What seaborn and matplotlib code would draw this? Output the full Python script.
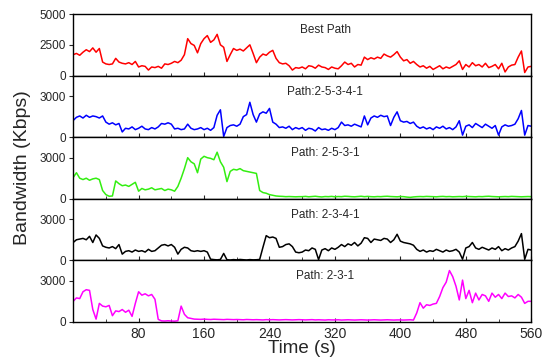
import numpy as np
import pandas as pd
import matplotlib
matplotlib.use("Agg")
import matplotlib.pyplot as plt
from matplotlib.ticker import MultipleLocator
import seaborn as sns

time_s = list(range(0, 561, 4))

best_path = [1700,1800,1650,1900,2100,1950,2250,1900,2200,1100,
             950,900,950,1400,1100,1000,950,1050,900,1150,
             700,800,750,450,700,650,750,600,950,900,
             1000,1150,1050,1250,1700,3000,2600,2450,1850,2600,
             3000,3250,2700,2900,3350,2500,2300,1150,1700,2200,
             2050,2150,2000,2250,2500,1800,1050,1500,1750,1650,
             1900,2050,1400,1050,950,1000,800,450,650,600,
             700,550,800,750,600,850,700,650,500,700,
             600,550,800,1100,900,1000,700,900,850,1500,
             1300,1450,1350,1500,1400,1750,1600,1500,1700,1950,
             1500,1200,1300,1000,1150,900,700,800,600,750,
             500,650,800,550,700,600,750,900,1200,500,
             900,700,1050,800,900,700,1000,650,750,900,
             550,1000,300,700,850,900,1500,2000,250,700,
             750]

path_25341 = [1220,1450,1550,1400,1600,1450,1550,1500,1400,1550,
              1100,950,1050,900,1000,380,650,600,750,550,
              650,800,600,550,700,600,750,1000,950,1050,
              950,600,650,550,600,950,650,550,600,700,
              550,650,500,700,1600,2000,50,700,850,900,
              800,950,1500,1650,2550,1650,1100,1700,1850,1750,
              2100,1100,950,700,750,650,800,550,700,600,
              700,500,650,600,450,700,550,600,500,650,
              550,700,1100,850,900,800,950,850,750,1550,
              900,1400,1550,1450,1600,1500,1550,850,1450,1850,
              1200,1100,1150,1000,1100,800,650,750,600,700,
              550,750,650,800,600,700,550,750,1200,150,
              800,900,700,1000,850,700,950,800,650,850,
              150,750,900,800,850,950,1350,1950,150,850,
              800]

path_2531 = [1550,1900,1500,1400,1500,1350,1450,1500,1400,600,
             300,180,200,1300,1100,950,1000,900,1050,1200,
             550,750,650,700,800,650,700,750,600,700,
             650,550,900,1500,2200,3000,2700,2550,1900,2900,
             3100,3000,2950,2850,3400,2700,2300,1250,2000,2150,
             2100,2200,2050,2000,1950,1900,1850,600,450,400,
             300,250,200,180,170,150,160,150,140,150,
             150,170,140,160,180,150,130,160,150,170,
             140,160,150,180,170,150,140,160,180,150,
             170,150,140,160,150,170,180,160,150,140,
             160,150,120,100,130,150,160,150,170,160,
             150,140,160,170,150,160,140,150,160,150,
             170,160,150,140,160,150,170,180,160,150,
             140,150,160,150,170,160,150,140,150,160,
             150]

path_2341 = [1300,1500,1550,1600,1500,1750,1300,1850,1600,1050,
             950,900,1000,850,1150,450,650,700,600,750,
             650,700,600,800,650,700,900,1100,1150,1050,
             1150,950,450,800,950,900,700,650,700,650,
             700,600,80,50,30,60,500,40,20,50,
             30,60,40,20,50,30,40,60,950,1800,
             1650,1700,1600,950,1000,1150,1200,1000,600,550,
             600,750,700,900,800,50,750,850,700,900,
             800,950,1150,1000,1200,1100,1300,1050,1250,1650,
             1600,1300,1550,1500,1450,1600,1550,1300,1500,1900,
             1400,1300,1250,1200,1100,800,650,750,600,700,
             650,800,700,600,750,650,700,800,600,80,
             900,1000,1300,900,800,950,850,750,900,800,
             1000,700,850,750,900,1000,1400,1950,70,800,
             750]

path_231 = [1500,1750,1700,2200,2350,2300,900,200,1350,1150,
            1100,1200,450,800,750,900,700,850,400,1350,
            2200,1950,2050,1900,2000,1650,180,70,60,80,
            60,50,80,1150,550,300,250,200,190,180,
            200,180,170,190,180,170,160,180,170,160,
            170,160,150,170,160,150,160,150,140,160,
            150,160,150,140,150,160,150,140,150,160,
            150,140,150,160,140,150,140,130,150,140,
            140,150,130,140,150,140,130,140,150,140,
            130,140,150,140,130,140,150,140,130,140,
            140,130,140,150,130,650,1400,1000,1250,1200,
            1300,1350,1850,2500,2900,3750,3300,2600,1600,3050,
            1700,2300,1400,2100,1600,2000,1900,1500,2100,1800,
            2000,1700,2100,1850,1900,1750,2000,1800,1350,1500,
            1500]

titles = ["Best Path", "Path:2-5-3-4-1", "Path: 2-5-3-1", "Path: 2-3-4-1", "Path: 2-3-1"]
series = [best_path, path_25341, path_2531, path_2341, path_231]
colors = ["#ff0000", "#0000ff", "#33ee11", "#000000", "#ff00ff"]
ylims = [(0, 5000), (0, 4500), (0, 4500), (0, 4500), (0, 4500)]
yticks = [[0, 2500, 5000], [0, 3000], [0, 3000], [0, 3000], [0, 3000]]
xticks = [80, 160, 240, 320, 400, 480, 560]

sns.set_style("ticks")
plt.rcParams["font.family"] = ["Liberation Sans", "DejaVu Sans"]

fig, axes = plt.subplots(5, 1, figsize=(5.46, 3.6), dpi=100, sharex=True)
fig.subplots_adjust(left=0.134, right=0.973, top=0.961, bottom=0.106, hspace=0)

for ax, vals, title, c, yl, yt in zip(axes, series, titles, colors, ylims, yticks):
    df = pd.DataFrame({"t": time_s, "v": vals})
    sns.lineplot(data=df, x="t", y="v", ax=ax, color=c, linewidth=1.1)
    ax.set_xlim(0, 560)
    ax.set_ylim(*yl)
    ax.set_yticks(yt)
    ax.set_ylabel("")
    ax.set_xlabel("")
    ax.text(0.55, 0.74, title, transform=ax.transAxes, ha="center", va="center", fontsize=8.5)
    ax.tick_params(axis="y", labelsize=8.5, length=3, width=0.8, direction="out", pad=2)
    ax.tick_params(axis="x", labelsize=10, length=3, width=0.8, direction="in")
    ax.xaxis.set_minor_locator(MultipleLocator(40))
    ax.tick_params(axis="x", which="minor", length=2, direction="in")
    for s in ax.spines.values():
        s.set_linewidth(1.0)
        s.set_color("black")

axes[-1].set_xticks(xticks)
axes[-1].set_xticklabels([str(x) for x in xticks])
axes[-1].tick_params(axis="x", pad=4)
axes[-1].set_xlabel("Time (s)", fontsize=13.5, labelpad=-1)
fig.text(0.042, 0.535, "Bandwidth (Kbps)", rotation=90, ha="center", va="center", fontsize=14)

fig.savefig("out.png", dpi=100)
